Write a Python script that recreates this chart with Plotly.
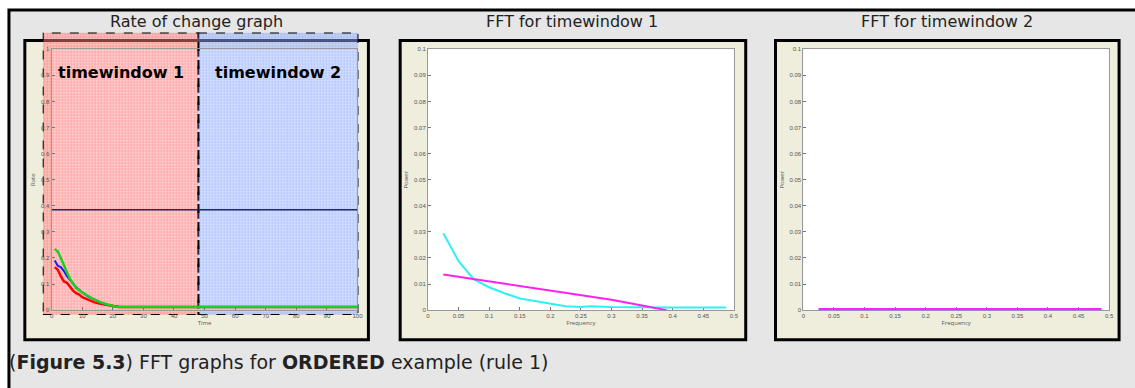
import plotly.graph_objects as go

W, H = 1135, 388
def X(px): return px / W
def Y(py): return 1 - py / H

# ---------------- data ----------------
# Rate of change graph (time vs rate)
t_red = [1, 2, 3, 4, 5, 6, 7, 8, 9, 10, 12, 13, 14, 16, 18, 20, 22, 100]
rate_red = [0.165, 0.155, 0.13, 0.11, 0.105, 0.09, 0.075, 0.065, 0.06, 0.05, 0.04, 0.035, 0.03, 0.025, 0.02, 0.015, 0.012, 0.012]
t_blue = [1, 2, 3, 4, 5, 6, 7, 8, 9, 10, 12, 14, 16, 18, 20, 22, 25, 100]
rate_blue = [0.19, 0.17, 0.165, 0.15, 0.13, 0.115, 0.1, 0.088, 0.078, 0.068, 0.052, 0.04, 0.03, 0.022, 0.016, 0.013, 0.012, 0.012]
t_green = [1, 2, 3, 4, 5, 6, 7, 8, 10, 12, 14, 16, 18, 20, 22, 100]
rate_green = [0.235, 0.225, 0.2, 0.17, 0.145, 0.12, 0.1, 0.085, 0.068, 0.053, 0.04, 0.03, 0.022, 0.016, 0.012, 0.012]
t_level = [0, 100]
rate_level = [0.385, 0.385]
# time windows (time units)
window1 = [-2.92, 48]
window2 = [48, 100.3]

# FFT for timewindow 1
f_cyan1 = [0.025, 0.05, 0.075, 0.1, 0.125, 0.15, 0.175, 0.2, 0.225, 0.25, 0.265, 0.3, 0.35, 0.4, 0.45, 0.4875]
p_cyan1 = [0.0295, 0.0188, 0.0118, 0.0088, 0.0065, 0.0045, 0.0035, 0.0025, 0.0015, 0.0012, 0.0015, 0.0012, 0.001, 0.001, 0.001, 0.001]
f_mag1 = [0.025, 0.1, 0.2, 0.3, 0.35, 0.39]
p_mag1 = [0.0137, 0.011, 0.0075, 0.004, 0.0018, 0.0]

# FFT for timewindow 2
f_cyan2 = [0.025, 0.4875]
p_cyan2 = [0.0, 0.0]
f_mag2 = [0.025, 0.4875]
p_mag2 = [0.0, 0.0]

titles = ["Rate of change graph", "FFT for timewindow 1", "FFT for timewindow 2"]
window_labels = ["timewindow 1", "timewindow 2"]

# ---------------- figure ----------------
fig = go.Figure()

# hatched time-window overlays (first subplot, drawn underneath the curves)
for win, fg, bg in [(window1, "rgba(255,30,30,0.75)", "rgba(255,150,150,0.45)"),
                    (window2, "rgba(60,100,255,0.6)", "rgba(160,185,255,0.45)")]:
    fig.add_trace(go.Scatter(
        x=[win[0], win[1], win[1], win[0], win[0]], y=[0, 0, 1, 1, 0],
        mode="lines", fill="toself", fillcolor="rgba(0,0,0,0)",
        fillpattern=dict(shape="+", fgcolor=fg, bgcolor=bg, size=3, solidity=0.3),
        line=dict(color="black", width=2, dash="dash"),
        xaxis="x", yaxis="y", hoverinfo="skip"))

fig.add_trace(go.Scatter(x=t_level, y=rate_level, mode="lines", line=dict(color="#1f2a5a", width=1.5), xaxis="x4", yaxis="y4"))
fig.add_trace(go.Scatter(x=t_red, y=rate_red, mode="lines", line=dict(color="#ff0000", width=2.5), xaxis="x4", yaxis="y4"))
fig.add_trace(go.Scatter(x=t_blue, y=rate_blue, mode="lines", line=dict(color="#1a1aff", width=2), xaxis="x4", yaxis="y4"))
fig.add_trace(go.Scatter(x=t_green, y=rate_green, mode="lines", line=dict(color="#1ed01e", width=2.5), xaxis="x4", yaxis="y4"))

fig.add_trace(go.Scatter(x=f_cyan1, y=p_cyan1, mode="lines", line=dict(color="#33f0f0", width=2), xaxis="x2", yaxis="y2"))
fig.add_trace(go.Scatter(x=f_mag1, y=p_mag1, mode="lines", line=dict(color="#ff22ee", width=2), xaxis="x2", yaxis="y2"))

fig.add_trace(go.Scatter(x=f_cyan2, y=p_cyan2, mode="lines", line=dict(color="#33f0f0", width=4), xaxis="x3", yaxis="y3"))
fig.add_trace(go.Scatter(x=f_mag2, y=p_mag2, mode="lines", line=dict(color="#ff22ee", width=4.5), xaxis="x3", yaxis="y3"))

tickfont = dict(family="Liberation Sans, Arial", size=6, color="#555555")
def axis_common():
    return dict(showline=True, mirror=True, linecolor="#999999", linewidth=1, ticks="inside",
                ticklen=3, tickcolor="#777777", tickfont=tickfont, showgrid=False, zeroline=False,
                fixedrange=True, layer="below traces")
tfont = dict(size=6, color="#555")

layout = dict(
    width=W, height=H, margin=dict(l=0, r=0, t=0, b=0),
    paper_bgcolor="white", plot_bgcolor="rgba(0,0,0,0)", showlegend=False,
    xaxis=dict(domain=[X(41), X(359)], range=[window1[0], window2[1]], visible=False, anchor="y", fixedrange=True),
    yaxis=dict(domain=[Y(317), Y(30)], range=[0, 1], visible=False, anchor="x", fixedrange=True),
    xaxis4=dict(domain=[X(50), X(358)], range=[0, 100], dtick=10, anchor="y4",
                title=dict(text="Time", font=tfont, standoff=2), **axis_common()),
    yaxis4=dict(domain=[Y(312), Y(47)], range=[0, 1], dtick=0.1, anchor="x4",
                title=dict(text="Rate", font=tfont, standoff=4), **axis_common()),
    xaxis2=dict(domain=[X(429), X(737)], range=[0, 0.5], dtick=0.05, anchor="y2",
                title=dict(text="Frequency", font=tfont, standoff=2), **axis_common()),
    yaxis2=dict(domain=[Y(312), Y(47)], range=[0, 0.1], dtick=0.01, anchor="x2",
                title=dict(text="Power", font=tfont, standoff=4), **axis_common()),
    xaxis3=dict(domain=[X(807), X(1115)], range=[0, 0.5], dtick=0.05, anchor="y3",
                title=dict(text="Frequency", font=tfont, standoff=2), **axis_common()),
    yaxis3=dict(domain=[Y(312), Y(47)], range=[0, 0.1], dtick=0.01, anchor="x3",
                title=dict(text="Power", font=tfont, standoff=4), **axis_common()),
)
fig.update_layout(**layout)

shapes = []
# outer grey frame
shapes.append(dict(type="rect", xref="paper", yref="paper", x0=X(7), x1=X(1145), y0=Y(400), y1=Y(7),
                   fillcolor="#e6e6e6", line=dict(color="black", width=3), layer="below"))
# panel boxes
for (l, r) in [(23, 369), (401, 749), (779, 1125)]:
    shapes.append(dict(type="rect", xref="paper", yref="paper", x0=X(l), x1=X(r), y0=Y(342), y1=Y(38),
                       fillcolor="#efeedd", line=dict(color="black", width=3), layer="below"))
# white plot areas
for (l, r) in [(50, 358), (429, 737), (807, 1115)]:
    shapes.append(dict(type="rect", xref="paper", yref="paper", x0=X(l), x1=X(r), y0=Y(312), y1=Y(47),
                       fillcolor="white", line=dict(width=0), layer="below"))
fig.update_layout(shapes=shapes)

annotations = []
for txt, cx in zip(titles, [196, 574, 952]):
    annotations.append(dict(text=txt, x=X(cx), y=Y(19), xref="paper", yref="paper", showarrow=False,
                            xanchor="center", yanchor="middle",
                            font=dict(family="DejaVu Sans, Verdana", size=16, color="#222")))
for txt, win in zip(window_labels, [window1, window2]):
    annotations.append(dict(text="<b>" + txt + "</b>", x=(win[0] + win[1]) / 2, y=0.86, xref="x", yref="y",
                            showarrow=False, xanchor="center", yanchor="middle",
                            font=dict(family="DejaVu Sans, Verdana", size=16, color="black")))
annotations.append(dict(text="(<b>Figure 5.3</b>) FFT graphs for <b>ORDERED</b> example (rule 1)",
                        x=X(5), y=Y(365), xref="paper", yref="paper", showarrow=False,
                        xanchor="left", yanchor="middle",
                        font=dict(family="DejaVu Sans, Verdana", size=19, color="#222")))
fig.update_layout(annotations=annotations)

fig.write_html("out.html")
